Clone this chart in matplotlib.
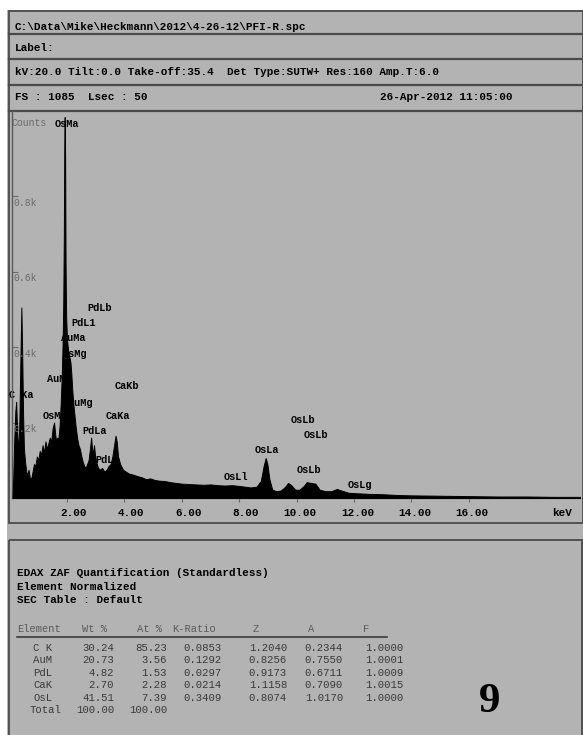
import matplotlib
matplotlib.use("Agg")
import matplotlib.pyplot as plt
import matplotlib.transforms as mtransforms
from matplotlib.patches import Rectangle

# spectrum (keV, counts)
energy = [0.10, 0.13, 0.16, 0.20, 0.23, 0.26, 0.30, 0.34, 0.38, 0.41, 0.44, 0.47, 0.50, 0.54,
          0.58, 0.62, 0.66, 0.70, 0.75, 0.80, 0.85, 0.90, 0.95, 1.00, 1.05, 1.10, 1.15, 1.20,
          1.25, 1.30, 1.35, 1.40, 1.45, 1.50, 1.55, 1.58, 1.62, 1.66, 1.70, 1.74, 1.78, 1.82,
          1.85, 1.87, 1.89, 1.905, 1.92, 1.935, 1.95, 1.97, 2.00, 2.04, 2.08, 2.12, 2.15, 2.18,
          2.22, 2.26, 2.30, 2.35, 2.40, 2.45, 2.50, 2.55, 2.60, 2.65, 2.70, 2.75, 2.80, 2.84,
          2.87, 2.91, 2.94, 2.98, 3.02, 3.08, 3.15, 3.22, 3.30, 3.38, 3.45, 3.52, 3.58, 3.64,
          3.69, 3.73, 3.78, 3.85, 3.95, 4.05, 4.15, 4.30, 4.45, 4.60, 4.75, 4.90, 5.05, 5.20,
          5.40, 5.60, 5.80, 6.00, 6.25, 6.50, 6.75, 7.00, 7.25, 7.50, 7.75, 8.00, 8.20, 8.40,
          8.60, 8.75, 8.85, 8.92, 8.98, 9.05, 9.15, 9.30, 9.45, 9.60, 9.70, 9.80, 9.95, 10.10,
          10.25, 10.35, 10.50, 10.65, 10.80, 11.00, 11.20, 11.40, 11.55, 11.80, 12.00, 12.50,
          13.00, 13.50, 14.00, 15.00, 16.00, 17.00, 18.00, 19.00, 19.90]
counts = [0, 60, 150, 230, 255, 180, 120, 200, 380, 505, 380, 220, 130, 95,
          70, 60, 75, 55, 50, 70, 90, 85, 110, 100, 125, 115, 140, 120,
          150, 130, 145, 160, 150, 185, 200, 175, 150, 160, 155, 190, 250, 330,
          420, 520, 700, 930, 1010, 900, 620, 480, 420, 390, 375, 360, 330, 290,
          250, 220, 190, 160, 140, 130, 110, 95, 85, 80, 90, 100, 130, 160,
          130, 120, 140, 110, 95, 80, 75, 80, 70, 75, 85, 90, 110, 140,
          165, 150, 110, 90, 75, 70, 65, 62, 58, 55, 50, 52, 48, 46,
          45, 42, 40, 38, 37, 36, 35, 36, 34, 33, 34, 32, 30, 28,
          30, 45, 85, 106, 90, 50, 22, 18, 20, 30, 40, 35, 22, 22,
          32, 42, 40, 38, 22, 18, 18, 24, 20, 14, 13, 11,
          10, 8, 7, 6, 5, 4, 4, 3, 3]

# peak labels (text, keV, counts) at their left edge
peak_names = ["OsMa", "PdLb", "PdL1", "AuMa", "OsMg", "AuMz", "C Ka", "AuMg", "OsMz",
              "PdLa", "PdLg", "CaKb", "CaKa", "OsLl", "OsLa", "OsLb", "OsLb", "OsLb", "OsLg"]
peak_kev = [1.58, 2.70, 2.14, 1.79, 1.86, 1.30, -0.02, 2.03, 1.16,
            2.52, 2.98, 3.67, 3.36, 7.47, 8.55, 9.80, 10.26, 10.00, 11.76]
peak_cnt = [992, 504, 464, 424, 382, 316, 273, 252, 217,
            178, 101, 297, 217, 56, 127, 207, 167, 74, 34]

x_ticks = [2, 4, 6, 8, 10, 12, 14, 16]
y_ticks = [200, 400, 600, 800]
y_tick_labels = ["0.2k", "0.4k", "0.6k", "0.8k"]

header_path = "C:\\Data\\Mike\\Heckmann\\2012\\4-26-12\\PFI-R.spc"
header_params = "kV:20.0 Tilt:0.0 Take-off:35.4  Det Type:SUTW+ Res:160 Amp.T:6.0"
header_fs = "FS : 1085  Lsec : 50"
header_date = "26-Apr-2012 11:05:00"

quant_title = ["EDAX ZAF Quantification (Standardless)", "Element Normalized", "SEC Table : Default"]
col_names = ["Element", "Wt %", "At %", "K-Ratio", "Z", "A", "F"]
elements = ["C K", "AuM", "PdL", "CaK", "OsL"]
wt_pct = ["30.24", "20.73", "4.82", "2.70", "41.51"]
at_pct = ["85.23", "3.56", "1.53", "2.28", "7.39"]
k_ratio = ["0.0853", "0.1292", "0.0297", "0.0214", "0.3409"]
z_col = ["1.2040", "0.8256", "0.9173", "1.1158", "0.8074"]
a_col = ["0.2344", "0.7550", "0.6711", "0.7090", "1.0170"]
f_col = ["1.0000", "1.0001", "1.0009", "1.0015", "1.0000"]
totals = ["100.00", "100.00"]

W, H = 583, 735
BG = "#b3b3b3"
LINE = "#4a4a4a"
MONO = "Liberation Mono"
FS = 7.9

fig = plt.figure(figsize=(W / 100, H / 100), dpi=100, facecolor="white")

# page overlay in pixel units
pg = fig.add_axes([0, 0, 1, 1], zorder=0)
pg.set_xlim(0, W)
pg.set_ylim(H, 0)
pg.axis("off")
pg.add_patch(Rectangle((7, 10), W - 7, H - 10, facecolor=BG, edgecolor="none"))
# header + chart box
pg.add_patch(Rectangle((9, 11), W - 9.5, 512, facecolor="none", edgecolor=LINE, lw=1.3))
for yy in [34, 59, 85, 111]:
    pg.plot([9, W], [yy, yy], color=LINE, lw=1.6)
# quant box
pg.add_patch(Rectangle((9, 540), W - 10.5, 200, facecolor="none", edgecolor=LINE, lw=1.3))

pg.text(15, 27, header_path, family=MONO, weight="bold", fontsize=FS, va="center")
pg.text(15, 48, "Label:", family=MONO, weight="bold", fontsize=FS, va="center")
pg.text(15, 72, header_params, family=MONO, weight="bold", fontsize=FS, va="center")
pg.text(15, 97, header_fs, family=MONO, weight="bold", fontsize=FS, va="center")
pg.text(512, 97, header_date, family=MONO, weight="bold", fontsize=FS, va="center", ha="right")
pg.text(11, 123, "Counts", family=MONO, fontsize=7, color="#6a6a6a", va="center")

for i, t in enumerate(quant_title):
    pg.text(17, 573 + i * 13.5, t, family=MONO, weight="bold", fontsize=FS, va="center")

col_x = [17, 82, 137, 172, 253, 308, 363]
for cx, name in zip(col_x, col_names):
    pg.text(cx, 629, name, family=MONO, fontsize=7.5, color="#5a5a5a", va="center")
pg.plot([17, 387], [637, 637], color="#3a3a3a", lw=1.2)

right_x = [114, 167, 222, 287, 343, 403]
cols = [wt_pct, at_pct, k_ratio, z_col, a_col, f_col]
for r, el in enumerate(elements):
    yy = 648 + r * 12.4
    pg.text(33, yy, el, family=MONO, fontsize=7.7, color="#3a3a3a", va="center")
    for rx, col in zip(right_x, cols):
        pg.text(rx, yy, col[r], family=MONO, fontsize=7.7, color="#3a3a3a", va="center", ha="right")
yy = 648 + len(elements) * 12.4
pg.text(30, yy, "Total", family=MONO, fontsize=7.7, color="#3a3a3a", va="center")
for rx, v in zip(right_x[:2], totals):
    pg.text(rx, yy, v, family=MONO, fontsize=7.7, color="#3a3a3a", va="center", ha="right")

pg.text(490, 702, "9", family="Liberation Serif", weight="bold", fontsize=31, va="center", ha="center")

# spectrum axes
ax = fig.add_axes([12 / W, (H - 498) / H, (580 - 12) / W, (498 - 111) / H], zorder=1)
ax.patch.set_alpha(0)
ax.set_xlim(0.084, 19.87)
ax.set_ylim(0, 1026)
for s in ["top", "right"]:
    ax.spines[s].set_visible(False)
ax.spines["left"].set_color("#5a5a5a")
ax.spines["bottom"].set_color("#6a6a6a")
ax.spines["left"].set_linewidth(1.0)
ax.spines["bottom"].set_linewidth(1.0)

ax.fill_between(energy, counts, color="black", edgecolor="black", lw=0.7, zorder=3)

for name, e, c in zip(peak_names, peak_kev, peak_cnt):
    ax.text(e, c, name, family=MONO, weight="bold", fontsize=7.4, va="center", ha="left",
            zorder=2, clip_on=False)

ax.set_xticks(x_ticks)
ax.set_xticklabels([])
ax.tick_params(axis="x", direction="out", length=3, color="#6a6a6a")
ax.set_yticks(y_ticks)
ax.set_yticklabels([])
ax.tick_params(axis="y", direction="in", length=4, color="#6a6a6a")

char_w = 0.6 * FS
for t in x_ticks:
    lab = "%.2f" % t
    n_int = len(lab.split(".")[0])
    off = mtransforms.ScaledTranslation(-n_int * char_w / 72, -10.8 / 72, fig.dpi_scale_trans)
    ax.text(t, 0, lab, family=MONO, weight="bold", fontsize=FS, va="center", ha="left",
            transform=ax.get_xaxis_transform() + off)
off = mtransforms.ScaledTranslation(0, -10.8 / 72, fig.dpi_scale_trans)
ax.text(19.6, 0, "keV", family=MONO, weight="bold", fontsize=FS, va="center", ha="right",
        transform=ax.get_xaxis_transform() + off)

for v, lab in zip(y_ticks, y_tick_labels):
    off = mtransforms.ScaledTranslation(1 / 72, -1 / 72, fig.dpi_scale_trans)
    ax.text(0, v, lab, family=MONO, fontsize=7, color="#6a6a6a", va="top", ha="left",
            transform=ax.get_yaxis_transform() + off)

fig.savefig("out.png", dpi=100, facecolor="white")
